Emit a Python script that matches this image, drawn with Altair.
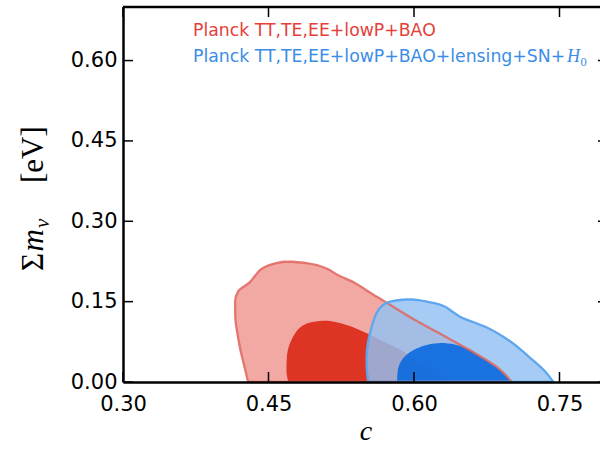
import altair as alt
import pandas as pd

# ---------------- data ----------------
x_ticks = [0.30, 0.45, 0.60, 0.75]
y_ticks = [0.00, 0.15, 0.30, 0.45, 0.60]
x_domain = [0.30, 0.80]
y_domain = [0.00, 0.70]

# contours as horizontal slices: y, left edge x, right edge x
red_outer_y = [0.000, 0.030, 0.060, 0.090, 0.120, 0.150, 0.170, 0.185, 0.200, 0.210, 0.217, 0.222, 0.2245]
red_outer_xl = [0.429, 0.425, 0.421, 0.418, 0.4158, 0.4155, 0.419, 0.430, 0.437, 0.442, 0.449, 0.458, 0.466]
red_outer_xr = [0.701, 0.684, 0.657, 0.627, 0.597, 0.570, 0.552, 0.539, 0.521, 0.512, 0.502, 0.489, 0.475]

red_inner_y = [0.000, 0.020, 0.040, 0.060, 0.078, 0.088, 0.096, 0.103, 0.108, 0.111, 0.1130, 0.1142]
red_inner_xl = [0.4705, 0.4685, 0.4687, 0.470, 0.4735, 0.4765, 0.4795, 0.4835, 0.4880, 0.4930, 0.4990, 0.5060]
red_inner_xr = [0.633, 0.618, 0.602, 0.586, 0.566, 0.555, 0.545, 0.536, 0.528, 0.521, 0.516, 0.511]

blue_outer_y = [0.000, 0.020, 0.047, 0.078, 0.103, 0.122, 0.132, 0.1405, 0.146, 0.150, 0.1525, 0.154]
blue_outer_xl = [0.553, 0.5515, 0.5512, 0.553, 0.5564, 0.5598, 0.5625, 0.566, 0.570, 0.5753, 0.582, 0.592]
blue_outer_xr = [0.7436, 0.735, 0.7185, 0.6975, 0.6735, 0.6474, 0.639, 0.632, 0.624, 0.613, 0.606, 0.598]

blue_inner_y = [0.000, 0.020, 0.035, 0.045, 0.053, 0.060, 0.065, 0.069, 0.0715, 0.073]
blue_inner_xl = [0.5825, 0.5832, 0.5855, 0.589, 0.594, 0.600, 0.606, 0.613, 0.619, 0.627]
blue_inner_xr = [0.701, 0.690, 0.679, 0.671, 0.664, 0.657, 0.651, 0.644, 0.638, 0.631]

legend_red = ["Planck TT,TE,EE+lowP+BAO"]
legend_blue = ["Planck TT,TE,EE+lowP+BAO+lensing+SN+"]
legend_h = ["H"]
legend_h_sub = ["0"]
ytitle_parts = ["Σ", "m", "ν", "[eV]"]
xtitle = "c"

# ---------------- styling ----------------
RED_OUTER = "#f2a9a3"
RED_INNER = "#de3424"
RED_LINE = "#df665e"
BLUE_OUTER = "#92c1f3"
BLUE_INNER = "#0a69de"
BLUE_LINE = "#5ea6f0"
RED_TEXT = "#e5403a"
BLUE_TEXT = "#3b8de6"

xs = alt.Scale(domain=x_domain, range=[0, 485], nice=False, zero=False)
ys = alt.Scale(domain=y_domain, nice=False, zero=False)

xaxis = alt.Axis(values=x_ticks, format=".2f", grid=False, ticks=False, tickSize=0,
                 labelFont="DejaVu Sans", labelFontSize=21, labelColor="black",
                 labelPadding=11, labelFlush=False, labelOverlap=False,
                 domainColor="black", domainWidth=2.5,
                 titleFont="Liberation Serif", titleFontStyle="italic",
                 titleFontWeight="normal", titleFontSize=28, titleColor="black",
                 titlePadding=3, zindex=1)
yaxis = alt.Axis(values=y_ticks, format=".2f", grid=False, ticks=False, tickSize=0,
                 labelFont="DejaVu Sans", labelFontSize=21, labelColor="black",
                 labelPadding=6, labelFlush=False, labelOverlap=False,
                 domainColor="black", domainWidth=2.5, zindex=1)


def X(**kw):
    return alt.X(scale=xs, axis=xaxis, title=xtitle, type="quantitative", **kw)


def Y(**kw):
    return alt.Y(scale=ys, axis=yaxis, title="", type="quantitative", **kw)


def contour(yv, xl, xr):
    return pd.DataFrame({"y": yv, "xl": xl, "xr": xr})


def fill(df, color, opacity):
    return alt.Chart(df).mark_area(orient="horizontal", interpolate="monotone",
                                   color=color, opacity=opacity, strokeWidth=0).encode(
        y=Y(field="y"), x=X(field="xl"), x2=alt.X2(field="xr"))


def outline(df, color, opacity):
    return alt.Chart(df).mark_area(orient="horizontal", interpolate="monotone",
                                   fillOpacity=0, stroke=color, strokeWidth=2.3,
                                   strokeOpacity=opacity).encode(
        y=Y(field="y"), x=X(field="xl"), x2=alt.X2(field="xr"))


red_outer = contour(red_outer_y, red_outer_xl, red_outer_xr)
red_inner = contour(red_inner_y, red_inner_xl, red_inner_xr)
blue_outer = contour(blue_outer_y, blue_outer_xl, blue_outer_xr)
blue_inner = contour(blue_inner_y, blue_inner_xl, blue_inner_xr)

xt = pd.DataFrame({"v": x_ticks})
yt = pd.DataFrame({"v": y_ticks})
one = pd.DataFrame({"d": [0]})

layers = [
    fill(red_outer, RED_OUTER, 1.0),
    fill(red_inner, RED_INNER, 1.0),
    fill(blue_outer, BLUE_OUTER, 0.82),
    fill(blue_inner, BLUE_INNER, 0.9),
    outline(red_outer, RED_LINE, 0.85),
    outline(blue_outer, BLUE_LINE, 1.0),
]

# frame (top and right spines)
layers.append(alt.Chart(one).mark_rule(color="black", strokeWidth=2.5).encode(
    x=X(datum=x_domain[0]), x2=alt.X2(datum=x_domain[1]), y=Y(datum=y_domain[1])))
layers.append(alt.Chart(one).mark_rule(color="black", strokeWidth=2.5).encode(
    x=X(datum=x_domain[1]), y=Y(datum=y_domain[0]), y2=alt.Y2(datum=y_domain[1])))

# inward ticks on all four sides
tick_style = dict(color="black", strokeWidth=1.5)
layers.append(alt.Chart(xt).mark_rule(y2Offset=-10, **tick_style).encode(
    x=X(field="v"), y=Y(datum=y_domain[0]), y2=alt.Y2(datum=y_domain[0])))
layers.append(alt.Chart(xt).mark_rule(y2Offset=10, **tick_style).encode(
    x=X(field="v"), y=Y(datum=y_domain[1]), y2=alt.Y2(datum=y_domain[1])))
layers.append(alt.Chart(yt).mark_rule(x2Offset=10, **tick_style).encode(
    y=Y(field="v"), x=X(datum=x_domain[0]), x2=alt.X2(datum=x_domain[0])))
layers.append(alt.Chart(yt).mark_rule(x2Offset=-10, **tick_style).encode(
    y=Y(field="v"), x=X(datum=x_domain[1]), x2=alt.X2(datum=x_domain[1])))


# legend texts
def txt(lst, color, x, y, size, font="DejaVu Sans", style="normal", angle=0):
    props = dict(align="left", baseline="alphabetic", font=font, fontSize=size,
                 fontStyle=style, color=color)
    if angle:
        props["angle"] = angle
    return alt.Chart(pd.DataFrame({"t": lst})).mark_text(**props).encode(
        text="t:N", x=alt.value(x), y=alt.value(y))


layers.append(txt(legend_red, RED_TEXT, 70, 28.7, 17.3))
layers.append(txt(legend_blue, BLUE_TEXT, 70, 54.5, 17.3))
layers.append(txt(legend_h, BLUE_TEXT, 444, 54.7, 18, font="Liberation Serif", style="italic"))
layers.append(txt(legend_h_sub, BLUE_TEXT, 457.5, 58.7, 12.5, font="Liberation Serif"))

# y axis title built from pieces (rotated)
layers.append(txt([ytitle_parts[0]], "black", -80, 264, 31, font="Liberation Serif", angle=270))
layers.append(txt([ytitle_parts[1]], "black", -80, 244.5, 31, font="Liberation Serif", style="italic", angle=270))
layers.append(txt([ytitle_parts[2]], "black", -74, 221, 21, font="Liberation Serif", style="italic", angle=270))
layers.append(txt([ytitle_parts[3]], "black", -80, 176, 31, font="Liberation Serif", angle=270))

chart = alt.layer(*layers).properties(
    width=477, height=375,
    autosize=alt.AutoSizeParams(type="none"),
    padding={"left": 123, "top": 7, "right": 0, "bottom": 73},
).configure_view(stroke=None).configure(background="white")

chart.save("out.html", embed_options={"renderer": "svg", "actions": False})
